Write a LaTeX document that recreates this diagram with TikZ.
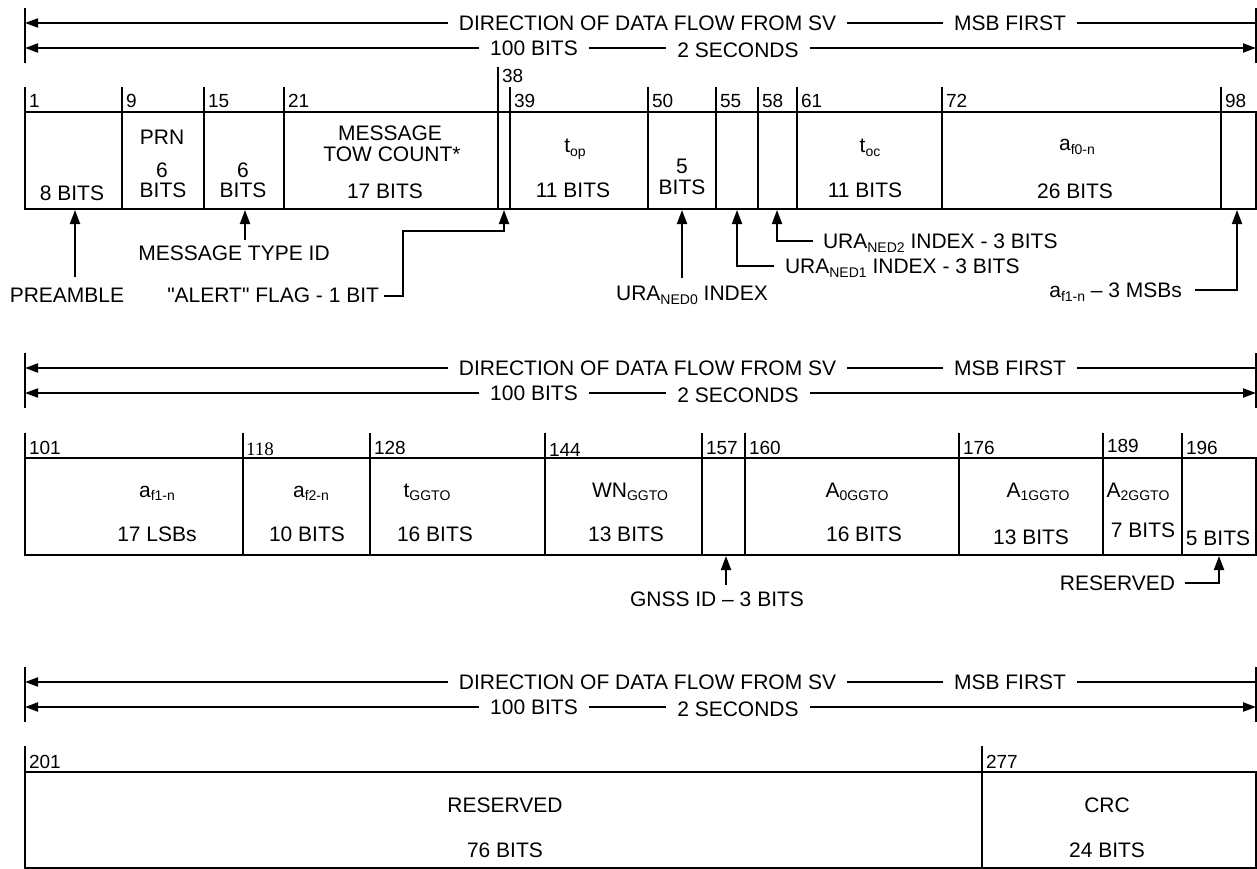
\documentclass[tikz,border=0pt]{standalone}
\usepackage{fontspec}
\setmainfont{Liberation Sans}[Ligatures=TeXOff]
\newfontfamily\serifnum{Liberation Serif}
\usetikzlibrary{arrows.meta}
\newcommand\lsub[1]{{\fontsize{14}{14}\selectfont\raisebox{-3.5pt}{#1}}}
\tikzset{
  every node/.style={inner sep=0pt, outer sep=0pt},
  txt/.style={font=\fontsize{21}{24}\selectfont},
  htxt/.style={txt, inner xsep=11pt},
  num/.style={font=\fontsize{19}{22}\selectfont, anchor=base west},
  hline/.style={line width=2pt},
  boxline/.style={line width=2pt},
  divline/.style={line width=1.8pt},
  htip/.style={-{Triangle[length=13pt,width=9pt]}},
  ptr/.style={line width=2pt, -{Triangle[length=14pt,width=10pt]}},
}
\newcommand\hdr[2]{%
  \coordinate (#1L) at (25,#2-15);
  \coordinate (#1R) at (1256,#2-15);
  \draw[hline] (#1L) -- ++(0,55);
  \draw[hline] (#1R) -- ++(0,55);
  \node[htxt] (#1dir) at (647.5,#2) {DIRECTION OF DATA FLOW FROM SV};
  \node[htxt] (#1msb) at (1010,#2) {MSB FIRST};
  \node[htxt] (#1bits) at (534,#2+25) {100 BITS};
  \node[htxt] (#1sec) at (738,#2+27) {2 SECONDS};
  \draw[hline, htip] (#1dir.west) -- (#1dir.west -| #1L);
  \draw[hline] (#1dir.east) -- (#1msb.west);
  \draw[hline] (#1msb.east) -- (#1msb.east -| #1R);
  \draw[hline, htip] (#1bits.west) -- (#1bits.west -| #1L);
  \draw[hline] (#1bits.east) -- (#1sec.west |- #1bits.east);
  \draw[hline, htip] (#1sec.east |- #1bits.east) -- (#1bits.east -| #1R);
}
\begin{document}
\begin{tikzpicture}[x=1pt,y=-1pt]
\useasboundingbox (0,0) rectangle (1257,869);

% ---------- headers ----------
\hdr{ha}{23}
\hdr{hb}{368}
\hdr{hc}{682}

% ---------- row 1 ----------
\draw[boxline] (25,112) rectangle (1256,209);
\foreach \x/\n in {25/1,122/9,204/15,284/21,510/39,648/50,716/55,758/58,797/61,942/72,1221/98}{
  \draw[divline] (\x,87) -- (\x,209);
  \node[num] (ra\n) at (\x+4,108) {\n};
}
\draw[divline] (498,67) -- (498,209);
\node[num] (ra38) at (502,83) {38};

\node[txt, anchor=base] (c1a) at (72,200.5) {8 BITS};
\node[txt, anchor=base] (c9a) at (162,144.5) {PRN};
\node[txt, anchor=base] (c9b) at (162,177.5) {6};
\node[txt, anchor=base] (c9c) at (163,197.5) {BITS};
\node[txt, anchor=base] (c15a) at (243,177.5) {6};
\node[txt, anchor=base] (c15b) at (243,197.5) {BITS};
\node[txt, anchor=base] (c21a) at (390,140.5) {MESSAGE};
\node[txt, anchor=base] (c21b) at (392,161.5) {TOW COUNT*};
\node[txt, anchor=base] (c21c) at (385,198.5) {17 BITS};
\node[txt, anchor=base] (c39a) at (575,153) {t\lsub{op}};
\node[txt, anchor=base] (c39b) at (573,197.5) {11 BITS};
\node[txt, anchor=base] (c50a) at (682,173.5) {5};
\node[txt, anchor=base] (c50b) at (682,194.5) {BITS};
\node[txt, anchor=base] (c61a) at (870,153) {t\lsub{oc}};
\node[txt, anchor=base] (c61b) at (865,197.5) {11 BITS};
\node[txt, anchor=base] (c72a) at (1077,151) {a\lsub{f0-n}};
\node[txt, anchor=base] (c72b) at (1075,198.5) {26 BITS};

% pointers below row 1
\node[txt, anchor=base] (pre) at (67,302.5) {PREAMBLE};
\coordinate (preS) at (75,277); \coordinate (preE) at (75,210);
\draw[ptr] (preS) -- (preE);

\node[txt, anchor=base] (mti) at (234,260.5) {MESSAGE TYPE ID};
\coordinate (mtiS) at (245,240); \coordinate (mtiE) at (245,210);
\draw[ptr] (mtiS) -- (mtiE);

\node[txt, anchor=base east] (alert) at (379,302.5) {"ALERT" FLAG - 1 BIT};
\coordinate (alertS) at (384,296); \coordinate (alertE) at (504,210);
\draw[ptr] (alertS) -- ++(19,0) -- ++(0,-65) -| (alertE);

\node[txt, anchor=base] (ura0) at (692,300.5) {URA\lsub{NED0} INDEX};
\coordinate (ura0S) at (682,278); \coordinate (ura0E) at (682,210);
\draw[ptr] (ura0S) -- (ura0E);

\node[txt, anchor=base west] (ura1) at (785,273.5) {URA\lsub{NED1} INDEX - 3 BITS};
\coordinate (ura1S) at (774,266); \coordinate (ura1E) at (737,210);
\draw[ptr] (ura1S) -| (ura1E);

\node[txt, anchor=base west] (ura2) at (823,248.5) {URA\lsub{NED2} INDEX - 3 BITS};
\coordinate (ura2S) at (813,241); \coordinate (ura2E) at (777,210);
\draw[ptr] (ura2S) -| (ura2E);

\node[txt, anchor=base east] (af1m) at (1182,297.5) {a\lsub{f1-n} – 3 MSBs};
\coordinate (af1S) at (1195,290); \coordinate (af1E) at (1237,210);
\draw[ptr] (af1S) -| (af1E);

% ---------- row 2 ----------
\draw[boxline] (25,458) rectangle (1256,555);
\foreach \x/\n/\yy in {25/101/454,370/128/454,545/144/456,702/157/454,745/160/454,959/176/454,1103/189/452,1182/196/454}{
  \draw[divline] (\x,433) -- (\x,555);
  \node[num] (rb\n) at (\x+4,\yy) {\n};
}
\draw[divline] (243,433) -- (243,555);
\node[num, font=\serifnum\fontsize{19}{22}\selectfont] (rb118) at (246,455) {118};

\node[txt, anchor=base] (d101a) at (157,497) {a\lsub{f1-n}};
\node[txt, anchor=base] (d101b) at (157,541) {17 LSBs};
\node[txt, anchor=base] (d118a) at (311,497) {a\lsub{f2-n}};
\node[txt, anchor=base] (d118b) at (307,541) {10 BITS};
\node[txt, anchor=base] (d128a) at (427,497) {t\lsub{GGTO}};
\node[txt, anchor=base] (d128b) at (435,541) {16 BITS};
\node[txt, anchor=base] (d144a) at (630,497) {WN\lsub{GGTO}};
\node[txt, anchor=base] (d144b) at (626,541) {13 BITS};
\node[txt, anchor=base] (d160a) at (857,497) {A\lsub{0GGTO}};
\node[txt, anchor=base] (d160b) at (864,541) {16 BITS};
\node[txt, anchor=base] (d176a) at (1038,497) {A\lsub{1GGTO}};
\node[txt, anchor=base] (d176b) at (1031,544) {13 BITS};
\node[txt, anchor=base] (d189a) at (1138,497) {A\lsub{2GGTO}};
\node[txt, anchor=base] (d189b) at (1143,537.5) {7 BITS};
\node[txt, anchor=base] (d196b) at (1218,545.5) {5 BITS};

\node[txt, anchor=base] (gnss) at (717,606.5) {GNSS ID – 3 BITS};
\coordinate (gnssS) at (726,585); \coordinate (gnssE) at (726,556);
\draw[ptr] (gnssS) -- (gnssE);

\node[txt, anchor=base east] (res2) at (1175,590.5) {RESERVED};
\coordinate (res2S) at (1185,583); \coordinate (res2E) at (1219,556);
\draw[ptr] (res2S) -| (res2E);

% ---------- row 3 ----------
\draw[boxline] (25,772) rectangle (1256,868);
\foreach \x/\n in {25/201,982/277}{
  \draw[divline] (\x,746) -- (\x,868);
  \node[num] (rc\n) at (\x+4,768) {\n};
}
\node[txt, anchor=base] (e201a) at (505,812.5) {RESERVED};
\node[txt, anchor=base] (e201b) at (505,857.5) {76 BITS};
\node[txt, anchor=base] (e277a) at (1107,812.5) {CRC};
\node[txt, anchor=base] (e277b) at (1107,857.5) {24 BITS};
\end{tikzpicture}
\end{document}
